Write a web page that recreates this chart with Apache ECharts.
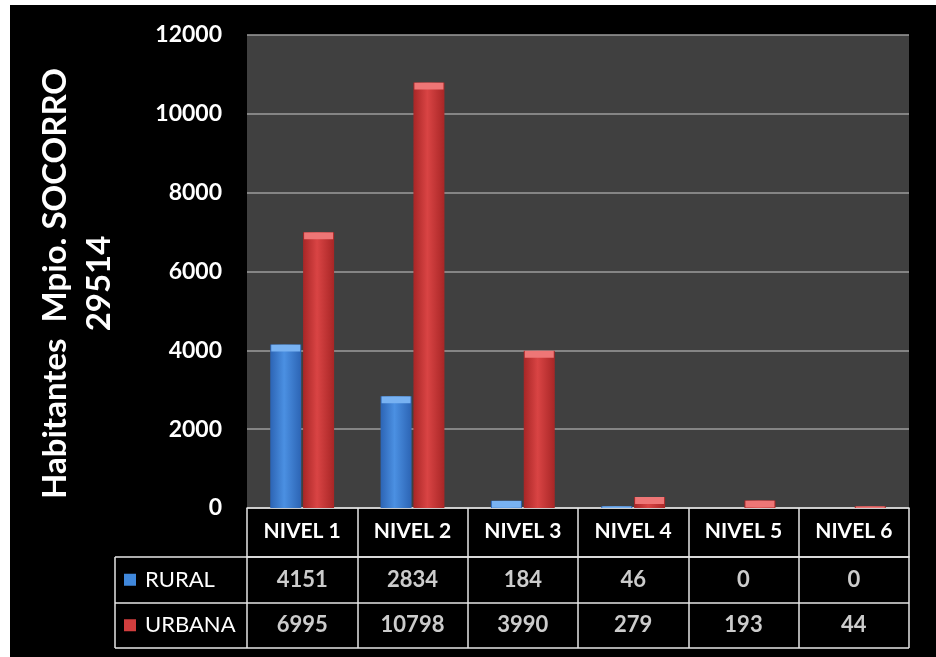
<!DOCTYPE html>
<html>
<head>
<meta charset="utf-8">
<script src="https://cdn.jsdelivr.net/npm/echarts@6/dist/echarts.min.js"></script>
<style>
  html, body { margin: 0; padding: 0; background: #fff; }
  #frame { position: absolute; left: 10px; top: 5px; width: 926px; height: 652px; background: #000; }
  #chart { position: absolute; left: 0; top: 0; width: 936px; height: 657px; }
</style>
</head>
<body>
<div id="frame"></div>
<div id="chart"></div>
<script>
// datos del gráfico
const niveles = ['NIVEL 1', 'NIVEL 2', 'NIVEL 3', 'NIVEL 4', 'NIVEL 5', 'NIVEL 6']
const filas = ['RURAL', 'URBANA']
const rural = [4151, 2834, 184, 46, 0, 0]
const urbana = [6995, 10798, 3990, 279, 193, 44]
const yTicks = [0, 2000, 4000, 6000, 8000, 10000, 12000]

const FONT = 'Lato'

// cilindro: oscuro en los bordes, claro al centro
function cylinder(edge, mid) {
  return {
    type: 'linear', x: 0, y: 0, x2: 1, y2: 0,
    colorStops: [
      { offset: 0, color: edge },
      { offset: 0.45, color: mid },
      { offset: 1, color: edge },
    ],
  }
}

const blue = cylinder('#2c64b4', '#4b90e2')
const red = cylinder('#a82626', '#d94444')

// celdas de la tabla: [columna, fila, valor]
const cells = []
rural.forEach((v, i) => cells.push([i, 0, v]))
urbana.forEach((v, i) => cells.push([i, 1, v]))

const chart = echarts.init(document.getElementById('chart'))

const option = {
  backgroundColor: 'transparent',
  animation: false,
  grid: [
    { left: 247, right: 27, top: 35, height: 473, show: true, backgroundColor: '#404040', borderWidth: 0 },
    { left: 247, right: 27, top: 557, height: 91 },
  ],
  xAxis: [
    {
      gridIndex: 0,
      type: 'category',
      data: niveles,
      axisLine: { show: true, lineStyle: { color: '#e6e6e6', width: 1.5 } },
      axisTick: { show: true, length: 49, lineStyle: { color: '#e6e6e6', width: 1.5 } },
      axisLabel: { color: '#fff', fontFamily: FONT, fontWeight: 'bold', fontSize: 21, margin: 13 },
    },
    {
      gridIndex: 1,
      type: 'category',
      data: niveles,
      position: 'top',
      axisLine: { show: true, lineStyle: { color: '#e6e6e6', width: 1.5 } },
      axisTick: { show: false },
      axisLabel: { show: false },
      splitLine: { show: true, lineStyle: { color: '#e6e6e6', width: 1.5 } },
    },
  ],
  yAxis: [
    {
      gridIndex: 0,
      type: 'value',
      min: 0,
      max: 12000,
      interval: 2000,
      name: 'Habitantes  Mpio. SOCORRO\n29514',
      nameLocation: 'middle',
      nameGap: 126,
      nameTextStyle: {
        color: '#fff', fontFamily: FONT, fontWeight: 'bold', fontSize: 33,
        lineHeight: 44, padding: [0, 24, 0, 0],
      },
      axisLine: { show: false },
      axisTick: { show: false },
      axisLabel: {
        color: '#fff', fontFamily: FONT, fontWeight: 'bold', fontSize: 23, margin: 25,
        formatter: (v) => (yTicks.includes(v) ? String(v) : ''),
      },
      splitLine: { lineStyle: { color: '#9c9c9c', width: 1.5 } },
    },
    {
      gridIndex: 1,
      type: 'category',
      data: filas,
      inverse: true,
      axisLine: { show: false },
      axisTick: { show: true, length: 132, lineStyle: { color: '#e6e6e6', width: 1.5 } },
      splitLine: { show: true, lineStyle: { color: '#e6e6e6', width: 1.5 } },
      axisLabel: {
        align: 'left',
        margin: 123,
        formatter: (v) => (v === 'RURAL' ? '{b|}' : '{r|}') + '{t|' + v + '}',
        rich: {
          b: { width: 12, height: 12, backgroundColor: '#4088dc' },
          r: { width: 12, height: 12, backgroundColor: '#d23e3e' },
          t: { color: '#fff', fontFamily: FONT, fontSize: 22, padding: [0, 0, 0, 9] },
        },
      },
    },
  ],
  graphic: [
    {
      type: 'line',
      shape: { x1: 115, y1: 557, x2: 115, y2: 648 },
      style: { stroke: '#e6e6e6', lineWidth: 1.5 },
    },
  ],
  series: [
    {
      name: 'RURAL',
      type: 'bar',
      xAxisIndex: 0,
      yAxisIndex: 0,
      data: rural,
      barWidth: 31,
      barGap: '6%',
      itemStyle: { color: blue },
    },
    {
      name: 'URBANA',
      type: 'bar',
      xAxisIndex: 0,
      yAxisIndex: 0,
      data: urbana,
      barWidth: 31,
      barGap: '6%',
      itemStyle: { color: red },
    },
    // tapas claras en la parte superior de cada barra
    {
      type: 'pictorialBar',
      xAxisIndex: 0,
      yAxisIndex: 0,
      data: rural.map((v) => (v > 0 ? v : '-')),
      barWidth: 31,
      barGap: '6%',
      symbol: 'rect',
      symbolSize: [29, 7],
      symbolPosition: 'end',
      symbolClip: true,
      z: 3,
      itemStyle: { color: '#78b2f2' },
    },
    {
      type: 'pictorialBar',
      xAxisIndex: 0,
      yAxisIndex: 0,
      data: urbana.map((v) => (v > 0 ? v : '-')),
      barWidth: 31,
      barGap: '6%',
      symbol: 'rect',
      symbolSize: [29, 7],
      symbolPosition: 'end',
      symbolClip: true,
      z: 3,
      itemStyle: { color: '#ee7676' },
    },
    {
      type: 'scatter',
      xAxisIndex: 1,
      yAxisIndex: 1,
      data: cells,
      symbolSize: 0,
      label: {
        show: true,
        position: 'inside',
        formatter: (p) => String(p.value[2]),
        color: '#fff',
        fontFamily: FONT,
        fontWeight: 'bold',
        fontSize: 22,
      },
    },
  ],
}

chart.setOption(option)
</script>
</body>
</html>
